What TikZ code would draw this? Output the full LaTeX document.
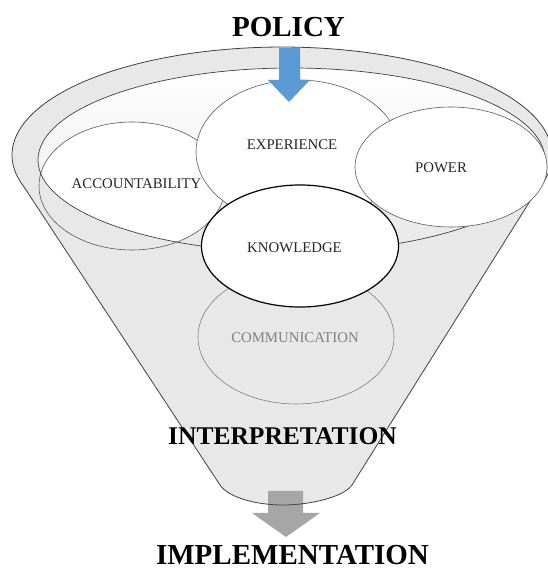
\documentclass[tikz,border=0pt]{standalone}
\usepackage{fontspec}
\setmainfont{Liberation Serif}
\usetikzlibrary{shapes.geometric}
\definecolor{funnelgray}{RGB}{232,232,232}
\definecolor{linegray}{RGB}{64,64,64}
\definecolor{ovalgray}{RGB}{90,90,90}
\definecolor{policyblue}{RGB}{91,155,213}
\definecolor{arrowgray}{RGB}{166,166,166}
\definecolor{commgray}{RGB}{128,128,128}
\begin{document}
\begin{tikzpicture}[x=1pt,y=1pt,
  oval/.style={ellipse, draw=ovalgray, line width=0.6pt, inner sep=0pt},
  lbl/.style={inner sep=0pt, text=black!85, font=\fontsize{14.8}{16}\selectfont},
  ttl/.style={inner sep=0pt, anchor=base, font=\bfseries\fontsize{29}{32}\selectfont},
  funnelpath/.style={line width=0.8pt, draw=linegray}]
\useasboundingbox (0,0) rectangle (548,571);
% funnel body
\fill[funnelgray] (23.8,384.4) -- (220,86) .. controls (228,74) and (255,66) .. (283,66)
  .. controls (310,66) and (344,74) .. (352,86) -- (535.7,379)
  arc[start angle=-20, end angle=197, x radius=270, y radius=108] -- cycle;
% opening of the funnel
\shade[top color=white, middle color=white, bottom color=funnelgray]
  (291.5,411) ellipse[x radius=253.5, y radius=92];
% accountability (white only inside the opening)
\begin{scope}
  \clip (291.5,411) ellipse[x radius=253.5, y radius=92];
  \fill[white] (132,385) ellipse[x radius=93, y radius=64];
\end{scope}
\node[oval, minimum width=186pt, minimum height=128pt] (acc) at (132,385) {};
% opening outline
\draw[line width=0.7pt, linegray] (291.5,411) ellipse[x radius=253.5, y radius=92];
% gray arrow at the bottom
\fill[arrowgray] (268,80) -- (303,80) -- (303,58) -- (320,58) -- (286,34) -- (252,58) -- (268,58) -- cycle;
% funnel outline
\draw[funnelpath] (23.8,384.4) -- (220,86) .. controls (228,74) and (255,66) .. (283,66)
  .. controls (310,66) and (344,74) .. (352,86) -- (535.7,379)
  arc[start angle=-20, end angle=197, x radius=270, y radius=108];
% ovals
\node[oval, fill=white, minimum width=204pt, minimum height=144pt] (exp) at (298,419) {};
\node[oval, fill=white, minimum width=192pt, minimum height=120pt] (pow) at (451,404) {};
\node[oval, draw=commgray, minimum width=196pt, minimum height=134pt] (com) at (296,234) {};
\node[oval, fill=white, draw=black, line width=1.2pt, minimum width=197pt, minimum height=122pt] (kno) at (300,325) {};
% blue arrow
\fill[policyblue] (279,523) -- (300,523) -- (300,491) -- (310,491) -- (289,469) -- (268,491) -- (279,491) -- cycle;
% labels
\node[lbl] (tacc) at (136.5,387) {ACCOUNTABILITY};
\node[lbl] (texp) at (292,426.5) {EXPERIENCE};
\node[lbl] (tpow) at (441,403.5) {POWER};
\node[lbl] (tkno) at (294.5,323.5) {KNOWLEDGE};
\node[lbl, text=commgray] (tcom) at (295,233) {COMMUNICATION};
% titles
\node[ttl] (policy) at (288.5,534) {POLICY};
\node[ttl, font=\bfseries\fontsize{25.5}{28}\selectfont] (interp) at (282.5,126) {INTERPRETATION};
\node[ttl, font=\bfseries\fontsize{29}{32}\selectfont] (impl) at (292.5,6) {IMPLEMENTATION};
\end{tikzpicture}
\end{document}
